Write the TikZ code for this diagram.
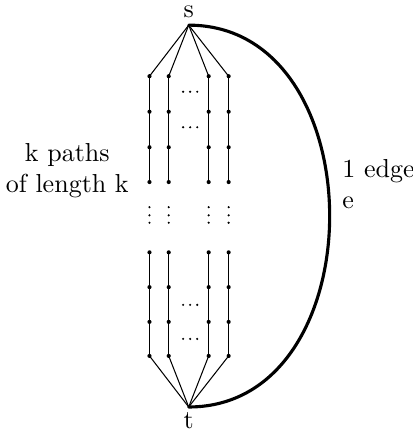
\documentclass[tikz,border=0pt]{standalone}
\begin{document}
\begin{tikzpicture}[line cap=round, line join=round]
\useasboundingbox (-2.55,-0.365) rectangle (3.03,5.5);
% endpoints
\coordinate (s) at (0, 5.16);
\coordinate (t) at (0, 0);
% k paths (one column each)
\foreach \x/\n in {-0.53/a, -0.27/b, 0.27/c, 0.54/d} {
  \coordinate (\n1) at (\x, 4.47);
  \coordinate (\n2) at (\x, 3.99);
  \coordinate (\n3) at (\x, 3.51);
  \coordinate (\n4) at (\x, 3.04);
  \coordinate (\n5) at (\x, 2.09);
  \coordinate (\n6) at (\x, 1.62);
  \coordinate (\n7) at (\x, 1.15);
  \coordinate (\n8) at (\x, 0.69);
  \draw[line width=0.4pt] (s) -- (\n1);
  \draw[line width=0.4pt] (\n8) -- (t);
  \draw[line width=0.6pt] (\n1) -- (\n4);
  \draw[line width=0.6pt] (\n5) -- (\n8);
  \foreach \i in {1,...,8} \fill (\n\i) circle (0.028);
  % vertical dots
  \foreach \y in {2.70, 2.59, 2.49} \fill (\x, \y) circle (0.016);
}
% horizontal dots between the columns
\foreach \y in {4.26, 3.78, 1.38, 0.92}
  \foreach \x in {-0.075, 0.02, 0.115} \fill (\x, \y) circle (0.016);
% the single edge e
\draw[very thick] (s) .. controls (2.54, 5.16) and (2.54, 0) .. (t);
% labels
\node[above, inner sep=2.5pt] (slabel) at (s) {s};
\node[below, inner sep=2pt]   (tlabel) at (t) {t};
\node[align=center] (paths) at (-1.64, 3.19) {k paths\\of length k};
\node[align=left, anchor=west, inner sep=0pt] (edge) at (2.07, 3.01) {1 edge\\e};
\end{tikzpicture}
\end{document}
